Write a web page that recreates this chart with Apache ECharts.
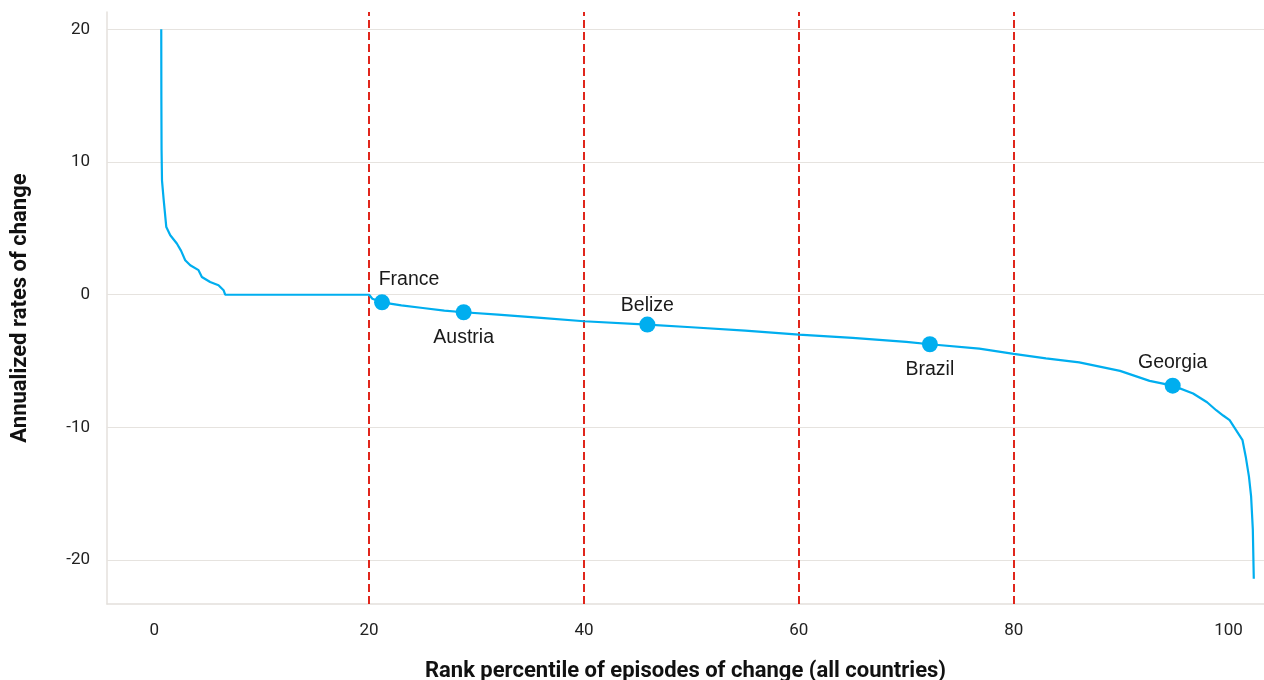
<!DOCTYPE html>
<html>
<head>
<meta charset="utf-8">
<script src="https://cdn.jsdelivr.net/npm/echarts@6/dist/echarts.min.js"></script>
<style>html,body{margin:0;padding:0;background:#fff}#chart{width:1264px;height:680px}</style>
</head>
<body>
<div id="chart"></div>
<script>
// Curve: rank percentile (x) vs annualized rate of change (y)
const curveX = [0.65, 0.66, 0.68, 0.72, 0.87, 1.12, 1.49, 2.1, 2.5, 2.88, 3.35, 4.12, 4.43, 5.2, 5.98, 6.45, 6.6,
  20.0, 20.3, 21.2, 23, 25, 27, 28.8, 32, 36, 40, 45.9, 50, 55, 60, 65, 70, 72.2, 76.8, 80, 83, 86.1, 89.9,
  92.65, 94.8, 96.7, 98, 98.85, 99.5, 100.1, 100.7, 101.3, 101.6, 101.9, 102.1, 102.26, 102.35];
const curveY = [20, 15, 10.9, 8.6, 7.2, 5.1, 4.48, 3.86, 3.3, 2.6, 2.22, 1.85, 1.34, 0.96, 0.72, 0.34, 0.0,
  0.0, -0.3, -0.57, -0.8, -1.0, -1.2, -1.32, -1.5, -1.75, -2.0, -2.25, -2.45, -2.7, -3.0, -3.25, -3.55, -3.73, -4.06, -4.45, -4.8, -5.1, -5.74,
  -6.49, -6.85, -7.44, -8.1, -8.7, -9.1, -9.45, -10.2, -10.96, -12.2, -13.7, -15.2, -17.7, -21.4];

// Highlighted countries
const countries = ['France', 'Austria', 'Belize', 'Brazil', 'Georgia'];
const countryX = [21.2, 28.8, 45.9, 72.2, 94.8];
const countryY = [-0.57, -1.32, -2.25, -3.73, -6.85];

// Reference percentiles (dashed lines)
const refLines = [20, 40, 60, 80];

// Tick labels
const xTicks = [0, 20, 40, 60, 80, 100];
const yTicks = [-20, -10, 0, 10, 20];

const labelStyle = {
  France: { position: 'top', offset: [27, 0] },
  Austria: { position: 'bottom', offset: [0, 2] },
  Belize: { position: 'top', offset: [0, 4] },
  Brazil: { position: 'bottom', offset: [0, 2] },
  Georgia: { position: 'top', offset: [0, 0] }
};

const chart = echarts.init(document.getElementById('chart'));
const tickFont = 'Roboto, "Liberation Sans", sans-serif';
const annFont = '"Liberation Sans", Arial, sans-serif';
const option = {
  animation: false,
  backgroundColor: '#ffffff',
  grid: { left: 107, right: 0, top: 12, bottom: 76, outerBoundsMode: 'none', containLabel: false },
  xAxis: {
    type: 'value', min: -4.4, max: 103.3,
    name: 'Rank percentile of episodes of change (all countries)',
    nameLocation: 'middle', nameGap: 56,
    nameTextStyle: { fontFamily: tickFont, fontWeight: 'bold', fontSize: 22, color: '#111' },
    axisLine: { show: true, onZero: false, lineStyle: { color: '#e4e0dc', width: 1.5 } },
    axisTick: { show: false },
    splitLine: { show: false },
    axisLabel: { customValues: xTicks, margin: 18, fontFamily: tickFont, fontSize: 17, color: '#222' }
  },
  yAxis: {
    type: 'value', min: -23.3, max: 21.3,
    name: 'Annualized rates of change',
    nameLocation: 'middle', nameGap: 76,
    nameTextStyle: { fontFamily: tickFont, fontWeight: 'bold', fontSize: 22, color: '#111' },
    axisLine: { show: true, onZero: false, lineStyle: { color: '#e4e0dc', width: 1.5 } },
    axisTick: { show: false },
    splitLine: { show: false },
    axisLabel: { customValues: yTicks, margin: 17, fontFamily: tickFont, fontSize: 17, color: '#222' }
  },
  series: [
    {
      type: 'line', z: 1, silent: true,
      data: [], symbol: 'none',
      markLine: {
        z: 1, silent: true, symbol: 'none', label: { show: false },
        lineStyle: { color: '#e6e3df', width: 1.2, type: 'solid' },
        data: yTicks.map(v => ({ yAxis: v }))
      }
    },
    {
      type: 'line', z: 2, silent: true,
      data: [], symbol: 'none',
      markLine: {
        z: 2, silent: true, symbol: 'none', label: { show: false },
        lineStyle: { color: '#e0261c', width: 2, type: [8, 4] },
        data: refLines.map(v => ({ xAxis: v }))
      }
    },
    {
      type: 'line', z: 3,
      data: curveX.map((x, i) => [x, curveY[i]]),
      showSymbol: false, symbol: 'none',
      lineStyle: { color: '#00aeef', width: 2.2 }
    },
    {
      type: 'scatter', z: 4,
      symbolSize: 16,
      itemStyle: { color: '#00aeef', opacity: 1 },
      data: countries.map((c, i) => ({
        name: c, value: [countryX[i], countryY[i]],
        label: Object.assign({ show: true, formatter: c }, labelStyle[c])
      })),
      label: { fontFamily: annFont, fontSize: 19.5, color: '#1a1a1a', distance: 5 }
    }
  ]
};
chart.setOption(option);
</script>
</body>
</html>
